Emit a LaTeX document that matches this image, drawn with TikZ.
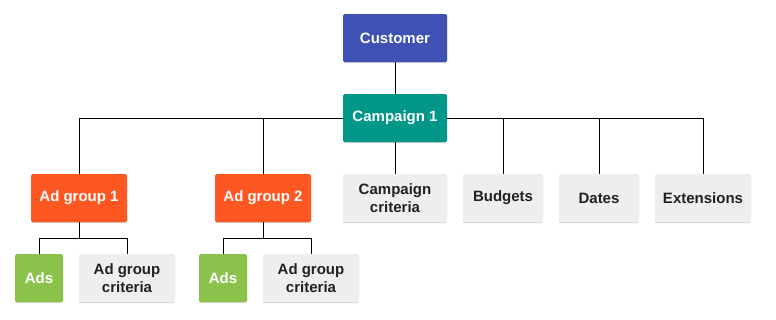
\documentclass[tikz,border=0pt]{standalone}
\usepackage{fontspec}
\setmainfont{Liberation Sans}
\usetikzlibrary{shadows}
\definecolor{cIndigo}{HTML}{3F51B5}
\definecolor{cTeal}{HTML}{009688}
\definecolor{cOrange}{HTML}{FF5722}
\definecolor{cGreen}{HTML}{8BC34A}
\definecolor{cGrey}{HTML}{EEEEEE}
\definecolor{cText}{HTML}{212121}
\begin{document}
\begin{tikzpicture}[x=1pt,y=-1pt,
  box/.style={rounded corners=1.5pt, inner sep=0pt, align=center,
    font=\fontsize{15}{18}\selectfont\bfseries,
    drop shadow={shadow xshift=0pt, shadow yshift=-1pt, opacity=0.18, fill=black}},
  colbox/.style={box, text=white, minimum height=48pt},
  greybox/.style={box, fill=cGrey, text=cText, minimum height=48pt},
  link/.style={draw=black, line width=0.8pt}]
\useasboundingbox (0,0) rectangle (776,319);
% nodes
\node[colbox, fill=cIndigo, minimum width=104pt] (cust) at (395,38) {Customer};
\node[colbox, fill=cTeal, minimum width=104pt] (camp) at (395,118) {Campaign 1};
\node[colbox, fill=cOrange, minimum width=96pt] (ag1) at (79,198) {Ad group 1};
\node[colbox, fill=cOrange, minimum width=96pt] (ag2) at (263,198) {Ad group 2};
\node[greybox, minimum width=104pt] (cc) at (395,198) {Campaign\\criteria};
\node[greybox, minimum width=80pt] (bud) at (503,198) {Budgets};
\node[greybox, minimum width=80pt] (dat) at (599,198) {Dates};
\node[greybox, minimum width=96pt] (ext) at (703,198) {Extensions};
\node[colbox, fill=cGreen, minimum width=48pt] (ads1) at (39,278) {Ads};
\node[greybox, minimum width=96pt] (agc1) at (127,278) {Ad group\\criteria};
\node[colbox, fill=cGreen, minimum width=48pt] (ads2) at (223,278) {Ads};
\node[greybox, minimum width=96pt] (agc2) at (311,278) {Ad group\\criteria};
% junctions
\coordinate (j1) at (79,238);
\coordinate (j2) at (263,238);
% connectors
\draw[link] (cust.south) -- (camp.north);
\draw[link] (camp.west) -| (ag1.north);
\draw[link] (camp.west) -| (ag2.north);
\draw[link] (camp.south) -- (cc.north);
\draw[link] (camp.east) -| (bud.north);
\draw[link] (camp.east) -| (dat.north);
\draw[link] (camp.east) -| (ext.north);
\draw[link] (ag1.south) -- (j1);
\draw[link] (j1) -| (ads1.north);
\draw[link] (j1) -| (agc1.north);
\draw[link] (ag2.south) -- (j2);
\draw[link] (j2) -| (ads2.north);
\draw[link] (j2) -| (agc2.north);
\end{tikzpicture}
\end{document}
